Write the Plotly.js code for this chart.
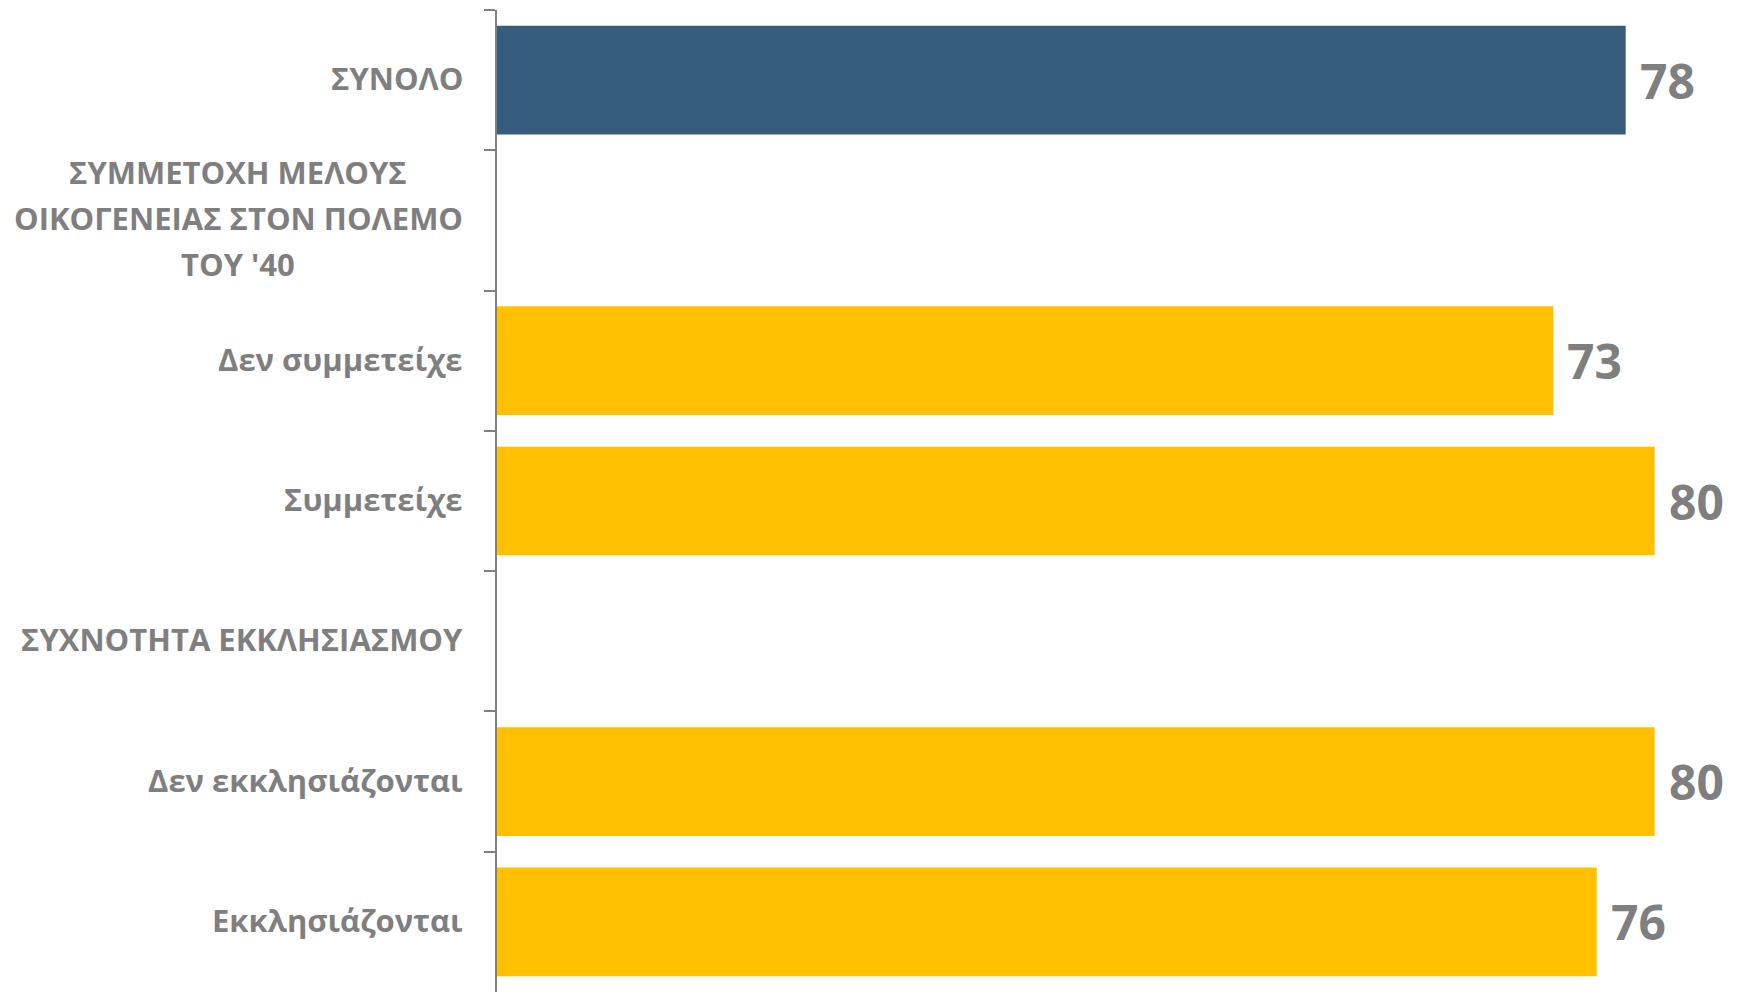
<!DOCTYPE html>
<html>
<head>
<meta charset="utf-8">
<script src="https://cdn.plot.ly/plotly-3.0.1.min.js"></script>
<style>html,body{margin:0;padding:0;background:#fff;}#chart{width:1738px;height:996px;}</style>
</head>
<body>
<div id="chart"></div>
<script>
const categories = [
  "ΣΥΝΟΛΟ",
  "ΣΥΜΜΕΤΟΧΗ ΜΕΛΟΥΣ<br>ΟΙΚΟΓΕΝΕΙΑΣ ΣΤΟΝ ΠΟΛΕΜΟ<br>ΤΟΥ '40",
  "Δεν συμμετείχε",
  "Συμμετείχε",
  "ΣΥΧΝΟΤΗΤΑ ΕΚΚΛΗΣΙΑΣΜΟΥ",
  "Δεν εκκλησιάζονται",
  "Εκκλησιάζονται"
];
const values = [78, null, 73, 80, null, 80, 76];
const barColors = ["#375D7E", "#FFC000", "#FFC000", "#FFC000", "#FFC000", "#FFC000", "#FFC000"];

const gray = "#7F7F7F";
const fontFam = "'Open Sans', 'Noto Sans', sans-serif";
const labelSize = 31;
const ids = categories.map((c, i) => "c" + i);

const ctx = document.createElement("canvas").getContext("2d");
ctx.font = "700 " + labelSize + "px 'Open Sans', 'Noto Sans', sans-serif";

const trace = {
  type: "bar",
  orientation: "h",
  x: values,
  y: ids,
  marker: {color: barColors},
  hoverinfo: "none"
};

const lineStep = 46;
const rightPad = 34;
const annotations = [];
categories.forEach((c, i) => {
  const lines = c.split("<br>");
  const n = lines.length;
  const w = Math.max(...lines.map(l => ctx.measureText(l).width));
  lines.forEach((ln, k) => {
    annotations.push({
      xref: "paper", yref: "y", x: 0, y: ids[i],
      xanchor: "center", yanchor: "middle", xshift: -rightPad - w / 2,
      yshift: 2 - (k - (n - 1) / 2) * lineStep,
      align: "center", showarrow: false, text: ln,
      font: {family: fontFam, size: labelSize, color: gray, weight: 700}
    });
  });
  if (values[i] !== null) {
    annotations.push({
      xref: "x", yref: "y", x: values[i], y: ids[i],
      xanchor: "left", yanchor: "middle", xshift: 12,
      showarrow: false, text: String(values[i]),
      font: {family: fontFam, size: 48, color: gray, weight: 700}
    });
  }
});

const layout = {
  width: 1738, height: 996,
  margin: {l: 497, r: 11, t: 10, b: 4},
  paper_bgcolor: "#fff", plot_bgcolor: "#fff",
  bargap: 0.225,
  showlegend: false,
  xaxis: {range: [0, 85], visible: false, fixedrange: true},
  yaxis: {
    type: "category", autorange: "reversed",
    tickson: "boundaries", ticks: "outside", ticklen: 11, tickwidth: 2, tickcolor: "#808080",
    showticklabels: false, showgrid: false, zeroline: false,
    showline: true, linecolor: "#808080", linewidth: 2
  },
  annotations: annotations
};

Plotly.newPlot("chart", [trace], layout, {displayModeBar: false, staticPlot: true});
</script>
</body>
</html>
